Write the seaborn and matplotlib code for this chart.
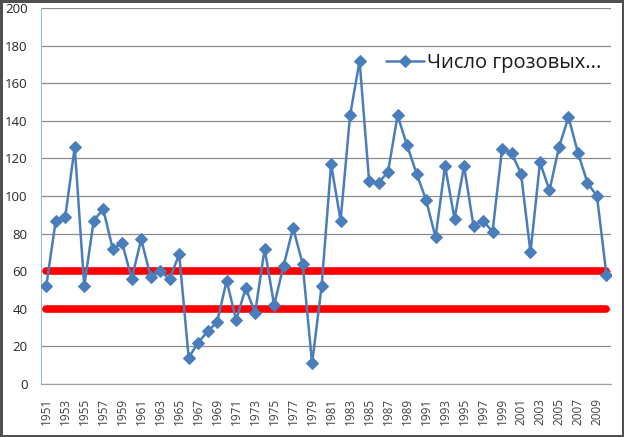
import numpy as np
import pandas as pd
import seaborn as sns
import matplotlib.pyplot as plt

years = list(range(1951, 2011))
storms = [52, 87, 89, 126, 52, 87, 93, 72, 75, 56,
          77, 57, 60, 56, 69, 14, 22, 28, 33, 55,
          34, 51, 38, 72, 42, 63, 83, 64, 11, 52,
          117, 87, 143, 172, 108, 107, 113, 143, 127, 112,
          98, 78, 116, 88, 116, 84, 87, 81, 125, 123,
          112, 70, 118, 103, 126, 142, 123, 107, 100, 58]
upper_level = [60] * len(years)
lower_level = [40] * len(years)
series_name = 'Число грозовых...'

sns.set_style('white')
plt.rcParams['font.family'] = ['Open Sans', 'DejaVu Sans']

df = pd.DataFrame({'idx': np.arange(len(years)), 'storms': storms,
                   'upper': upper_level, 'lower': lower_level})

fig = plt.figure(figsize=(6.24, 4.37), dpi=100)
ax = fig.add_axes([0.0665, 0.1213, 0.913, 0.86])

sns.lineplot(data=df, x='idx', y='upper', ax=ax, color='#FF0000', lw=5.5,
             solid_capstyle='round', zorder=2)
sns.lineplot(data=df, x='idx', y='lower', ax=ax, color='#FF0000', lw=5.5,
             solid_capstyle='round', zorder=2)
sns.lineplot(data=df, x='idx', y='storms', ax=ax, color='#4A7EBB', lw=1.8,
             marker='D', markersize=6, markeredgecolor='#4A7EBB',
             label=series_name, zorder=3)

ax.set_xlim(-0.5, len(years) - 0.5)
ax.set_ylim(0, 200)
ax.set_yticks(range(0, 201, 20))
ax.set_yticklabels([str(v) for v in range(0, 201, 20)], fontsize=9.5, color='#262626')
ax.yaxis.grid(True, color='#8C8C8C', lw=0.9)
ax.set_axisbelow(True)

ax.set_xticks(np.arange(0, len(years), 2))
ax.set_xticklabels([str(y) for y in years[::2]], rotation=90, fontsize=8.5, color='#404040')
ax.set_xticks(np.arange(-0.5, len(years), 1), minor=True)
ax.tick_params(axis='x', which='major', length=0, pad=10)
ax.tick_params(axis='x', which='minor', length=4, color='#A0A0A0', width=0.8)
ax.tick_params(axis='y', length=4, color='#A0A0A0', width=0.8, pad=6)
ax.set_xlabel('')
ax.set_ylabel('')

for side in ['top', 'right']:
    ax.spines[side].set_visible(False)
ax.spines['left'].set_color('#9DB9E0')
ax.spines['bottom'].set_color('#A0A0A0')

leg = ax.legend(loc='center left', bbox_to_anchor=(0.59, 0.855), frameon=False,
                fontsize=14.5, handlelength=1.9, handletextpad=0.15,
                borderaxespad=0)
for t in leg.get_texts():
    t.set_color('#1A1A1A')

fig.patch.set_edgecolor('#505050')
fig.patch.set_linewidth(2.5)

plt.savefig('out.png', dpi=100, edgecolor=fig.get_edgecolor())
